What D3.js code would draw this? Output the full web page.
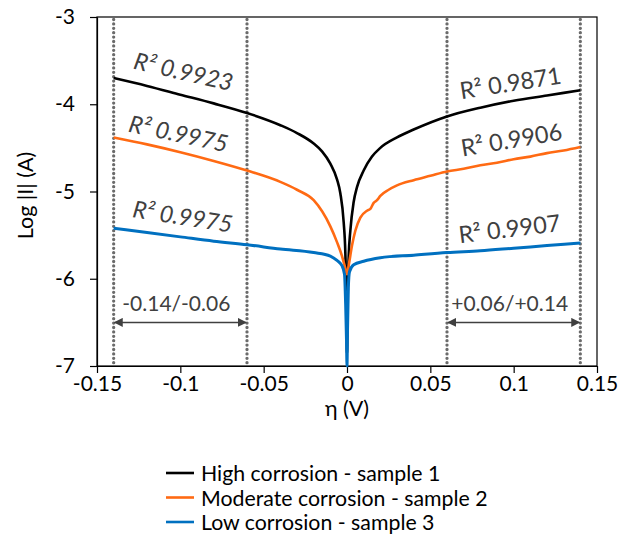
<!DOCTYPE html>
<html>
<head>
<meta charset="utf-8">
<script src="https://cdn.jsdelivr.net/npm/d3@7"></script>
<style>
  html, body { margin: 0; padding: 0; background: #fff; }
  svg { display: block; font-family: Lato, "Open Sans", sans-serif; }
</style>
</head>
<body>
<svg id="chart" width="618" height="551"></svg>
<script>
// ---------- data ----------
const xTicks = [-0.15, -0.1, -0.05, 0, 0.05, 0.1, 0.15];
const xTickLabels = ["-0.15", "-0.1", "-0.05", "0", "0.05", "0.1", "0.15"];
const yTicks = [-3, -4, -5, -6, -7];
const yTickLabels = ["-3", "-4", "-5", "-6", "-7"];
const seriesNames = ["High corrosion - sample 1", "Moderate corrosion - sample 2", "Low corrosion - sample 3"];

const highEta = [-0.14, -0.12, -0.10, -0.08, -0.06, -0.04, -0.03, -0.02, -0.015, -0.01, -0.006, -0.004, -0.002, -0.001, -0.0004, 0,
  0.0004, 0.001, 0.002, 0.004, 0.006, 0.01, 0.015, 0.02, 0.03, 0.04, 0.06, 0.08, 0.10, 0.12, 0.14];
const highLog = [-3.70, -3.79, -3.89, -3.99, -4.10, -4.24, -4.33, -4.45, -4.54, -4.68, -4.86, -5.02, -5.35, -5.70, -6.20, -6.85,
  -6.20, -5.75, -5.45, -5.12, -4.95, -4.76, -4.60, -4.50, -4.38, -4.29, -4.14, -4.04, -3.96, -3.90, -3.84];

const modEta = [-0.14, -0.12, -0.10, -0.08, -0.06, -0.04, -0.03, -0.02, -0.01, -0.006, -0.003, -0.001, 0,
  0.001, 0.003, 0.005, 0.008, 0.012, 0.014, 0.016, 0.018, 0.02, 0.025, 0.03, 0.04, 0.05, 0.06, 0.07, 0.08, 0.09, 0.10, 0.11, 0.12, 0.13, 0.14];
const modLog = [-4.38, -4.46, -4.55, -4.65, -4.76, -4.89, -4.98, -5.10, -5.40, -5.58, -5.74, -5.88, -5.95,
  -5.85, -5.62, -5.45, -5.30, -5.22, -5.20, -5.13, -5.10, -5.05, -4.98, -4.93, -4.87, -4.82, -4.77, -4.74, -4.70, -4.67, -4.63, -4.60, -4.56, -4.53, -4.49];

const lowEta = [-0.14, -0.12, -0.10, -0.08, -0.06, -0.04, -0.02, -0.01, -0.006, -0.003, -0.0015, -0.0008, -0.0003, 0,
  0.0003, 0.0008, 0.0015, 0.004, 0.01, 0.02, 0.04, 0.06, 0.08, 0.10, 0.12, 0.14];
const lowLog = [-5.42, -5.47, -5.52, -5.57, -5.61, -5.66, -5.70, -5.74, -5.79, -5.85, -5.95, -6.30, -6.70, -7.00,
  -6.60, -6.10, -5.92, -5.84, -5.80, -5.76, -5.73, -5.70, -5.68, -5.65, -5.62, -5.59];

const fitRanges = [[-0.14, -0.06], [0.06, 0.14]];
const fitRangeLabels = ["-0.14/-0.06", "+0.06/+0.14"];
const r2Values = ["0.9923", "0.9975", "0.9975", "0.9871", "0.9906", "0.9907"];

// ---------- layout ----------
const colors = ["#000000", "#FF6A13", "#0070C0"];
const margin = { left: 97, right: 21, top: 17, bottom: 185 };
const W = 618, H = 551;
const svg = d3.select("#chart");

const x = d3.scaleLinear().domain([-0.15, 0.15]).range([margin.left, W - margin.right]);
const y = d3.scaleLinear().domain([-7, -3]).range([H - margin.bottom, margin.top]);

const series = [
  highEta.map((e, i) => [e, highLog[i]]),
  modEta.map((e, i) => [e, modLog[i]]),
  lowEta.map((e, i) => [e, lowLog[i]])
];

// plot frame
svg.append("rect")
  .attr("x", x(-0.15)).attr("y", y(-3))
  .attr("width", x(0.15) - x(-0.15)).attr("height", y(-7) - y(-3))
  .attr("fill", "none").attr("stroke", "#000").attr("stroke-width", 1.2);

// dotted fit-range boundaries
const bounds = fitRanges.flat();
svg.append("g").selectAll("line").data(bounds).join("line")
  .attr("x1", d => x(d)).attr("x2", d => x(d))
  .attr("y1", y(-3) + 2.5).attr("y2", y(-7) - 1)
  .attr("stroke", "#6b6b6b").attr("stroke-width", 3.3)
  .attr("stroke-linecap", "round").attr("stroke-dasharray", "0,4.4");

// axes
const xAxis = svg.append("g")
  .attr("transform", `translate(0,${y(-7)})`)
  .call(d3.axisBottom(x).tickValues(xTicks).tickSize(7).tickPadding(3).tickSizeOuter(0)
    .tickFormat((d, i) => xTickLabels[i]));
const yAxis = svg.append("g")
  .attr("transform", `translate(${x(-0.15)},0)`)
  .call(d3.axisLeft(y).tickValues(yTicks).tickSize(7).tickPadding(15).tickSizeOuter(0)
    .tickFormat((d, i) => yTickLabels[i]));
[xAxis, yAxis].forEach(g => {
  g.select(".domain").attr("stroke", "#000").attr("stroke-width", 1.2);
  g.selectAll(".tick line").attr("stroke", "#000").attr("stroke-width", 1.2);
  g.selectAll(".tick text").attr("fill", "#000").attr("font-size", 21)
    .attr("font-family", "Lato, sans-serif");
});

// axis titles
svg.append("text").attr("x", x(0)).attr("y", 416).attr("text-anchor", "middle")
  .attr("font-size", 21.5).attr("fill", "#000").text("η (V)");
svg.append("text")
  .attr("transform", `translate(25,${(y(-3) + y(-7)) / 2 + 4}) rotate(-90)`)
  .attr("text-anchor", "middle").attr("dominant-baseline", "central")
  .attr("font-size", 21.5).attr("fill", "#000").text("Log |I| (A)");

// series lines
const line = d3.line().x(d => x(d[0])).y(d => y(d[1])).curve(d3.curveMonotoneX);
svg.append("g").selectAll("path").data([0, 1, 2]).join("path")
  .attr("d", i => line(series[i]))
  .attr("fill", "none").attr("stroke", i => colors[i])
  .attr("stroke-width", i => i === 2 ? 3 : 2.6)
  .attr("stroke-linejoin", "round");

// range arrows
const defs = svg.append("defs");
defs.append("marker").attr("id", "arr").attr("viewBox", "0 0 10 10")
  .attr("refX", 9).attr("refY", 5).attr("markerWidth", 6).attr("markerHeight", 6)
  .attr("orient", "auto-start-reverse")
  .append("path").attr("d", "M0,0 L10,5 L0,10 z").attr("fill", "#404040");
const arrowY = -6.5;
svg.append("g").selectAll("line").data(fitRanges).join("line")
  .attr("x1", d => x(d[0]) + 1).attr("x2", d => x(d[1]) - 1)
  .attr("y1", y(arrowY)).attr("y2", y(arrowY))
  .attr("stroke", "#404040").attr("stroke-width", 1.5)
  .attr("marker-start", "url(#arr)").attr("marker-end", "url(#arr)");
svg.append("g").selectAll("text").data(fitRanges).join("text")
  .attr("x", d => x((d[0] + d[1]) / 2) - 4).attr("y", y(arrowY) - 11)
  .attr("text-anchor", "middle").attr("font-size", 21).attr("fill", "#404040")
  .text((d, i) => fitRangeLabels[i]);

// R² labels
const r2Place = [
  { eta: -0.098, log: -3.62, angle: 13, italic: true },
  { eta: -0.101, log: -4.33, angle: 12, italic: true },
  { eta: -0.0985, log: -5.28, angle: 9, italic: true },
  { eta: 0.098, log: -3.75, angle: -9, italic: false },
  { eta: 0.0986, log: -4.40, angle: -9.5, italic: false },
  { eta: 0.0974, log: -5.42, angle: -7, italic: false }
];
svg.append("g").selectAll("text").data(r2Place).join("text")
  .attr("transform", d => `translate(${x(d.eta)},${y(d.log)}) rotate(${d.angle})`)
  .attr("text-anchor", "middle").attr("dominant-baseline", "central")
  .attr("font-size", 23.5).attr("fill", "#404040")
  .attr("font-style", d => d.italic ? "italic" : "normal")
  .text((d, i) => "R² " + r2Values[i]);

// legend
const lg = svg.append("g").attr("transform", "translate(166,473)");
const items = lg.selectAll("g").data(seriesNames).join("g")
  .attr("transform", (d, i) => `translate(0,${i * 24.5})`);
items.append("line").attr("x1", 0).attr("x2", 28).attr("y1", 0).attr("y2", 0)
  .attr("stroke", (d, i) => colors[i]).attr("stroke-width", 2.6);
items.append("text").attr("x", 35).attr("y", 0).attr("dominant-baseline", "central")
  .attr("font-size", 21.3).attr("fill", "#000").text(d => d);
</script>
</body>
</html>
